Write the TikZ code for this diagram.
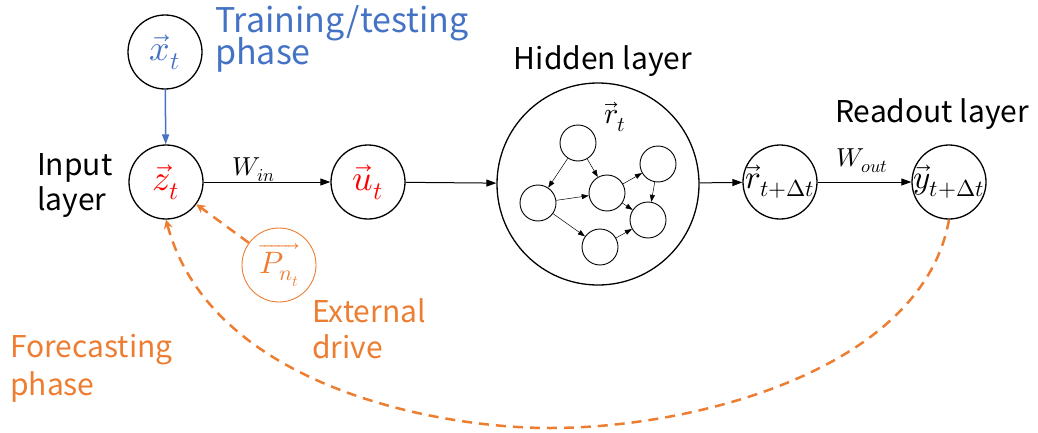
\documentclass[tikz,border=0pt]{standalone}
\usepackage{unicode-math}
\setmainfont{Noto Sans CJK JP}
\setmathfont{Latin Modern Math}
\usetikzlibrary{arrows.meta}
\definecolor{ublue}{HTML}{4472C4}
\definecolor{uorange}{HTML}{ED7D31}
\begin{document}
\begin{tikzpicture}[x=1pt,y=1pt,
  neuron/.style={circle,draw,line width=1.3pt,minimum size=74pt,inner sep=0pt},
  cell/.style={circle,draw,line width=0.9pt,minimum size=36pt,inner sep=0pt},
  lab/.style={font=\fontsize{30}{36}\selectfont,inner sep=0pt},
  biglab/.style={font=\fontsize{34}{40}\selectfont,inner sep=0pt},
  mbig/.style={font=\fontsize{36}{40}\selectfont,inner sep=0pt},
  mmid/.style={font=\fontsize{33}{38}\selectfont,inner sep=0pt},
  conn/.style={line width=1pt,-{Triangle[length=10pt,width=7pt]}},
  thinarr/.style={line width=0.5pt,-{Triangle[length=7pt,width=5pt]}},
  fdash/.style={uorange,line width=2.5pt,dash pattern=on 10pt off 7pt,-{Stealth[length=9pt,width=9pt]}}
]
\useasboundingbox (0,0) rectangle (1038,432);
% main neurons
\node[neuron] (x) at (165,380) {};
\node[mbig,text=ublue] at (x) {$\vec{x}_t$};
\node[neuron] (z) at (166,250) {};
\node[mbig,text=red] at (z) {$\vec{z}_t$};
\node[neuron] (u) at (368,250) {};
\node[mbig,text=red] at (u) {$\vec{u}_t$};
\node[circle,draw,line width=1.3pt,minimum size=202pt,inner sep=0pt] (h) at (598,248) {};
\node[neuron] (r) at (780,250) {};
\node[mmid] at (r) {$\vec{r}_{t+\Delta t}$};
\node[neuron] (y) at (949,250) {};
\node[mmid] at (y) {$\vec{y}_{t+\Delta t}$};
\node[neuron,draw=uorange,line width=0.9pt] (p) at (279,167) {};
\node[font=\fontsize{31}{36}\selectfont,inner sep=0pt,text=uorange] at (p) {$\overrightarrow{P_{n_t}}$};
% reservoir cells
\node[cell] (cA) at (578,289) {};
\node[cell] (cB) at (538,229) {};
\node[cell] (cC) at (607,239) {};
\node[cell] (cD) at (658,268) {};
\node[cell] (cE) at (648,212) {};
\node[cell] (cF) at (600,185) {};
\node[font=\fontsize{30}{34}\selectfont] (rt) at (615,315) {$\vec{r}_t$};
\draw[thinarr] (cA) -- (cB);
\draw[thinarr] (cA) -- (cC);
\draw[thinarr] (cB) -- (cC);
\draw[thinarr] (cB) -- (cF);
\draw[thinarr] (cC) -- (cD);
\draw[thinarr] (cC) -- (cE);
\draw[thinarr] (cD) -- (cE);
\draw[thinarr] (cF) -- (cE);
% labels
\node[biglab,text=ublue,anchor=base west] (l1) at (215,399) {Training/testing};
\node[biglab,text=ublue,anchor=base west] (l2) at (215,367) {phase};
\node[lab,anchor=base west] (l3) at (37,257) {Input};
\node[lab,anchor=base west] (l4) at (37,222) {layer};
\node[lab,anchor=base] (l5) at (603,362) {Hidden layer};
\node[lab,anchor=base west] (l6) at (835,309) {Readout layer};
\node[lab,text=uorange,anchor=base west] (l7) at (312,110) {External};
\node[lab,text=uorange,anchor=base west] (l8) at (312,74) {drive};
\node[lab,text=uorange,anchor=base west] (l9) at (10,75) {Forecasting};
\node[lab,text=uorange,anchor=base west] (l10) at (10,37) {phase};
\node[font=\fontsize{26}{30}\selectfont] (win) at (254,262) {$W_{in}$};
\node[font=\fontsize{26}{30}\selectfont] (wout) at (862,271) {$W_{out}$};
% connectors
\draw[conn,ublue,line width=1.5pt] (x) -- (z);
\draw[conn] (z) -- (u);
\draw[conn] (u) -- (h);
\draw[conn] (h) -- (r);
\draw[conn] (r) -- (y);
\draw[fdash] (p) -- (z);
\coordinate (bot) at (550,4);
\draw[fdash] (y.south) .. controls (923,65) and (700,4) .. (bot)
  .. controls (430,4) and (210,49) .. (z.south);
\end{tikzpicture}
\end{document}
